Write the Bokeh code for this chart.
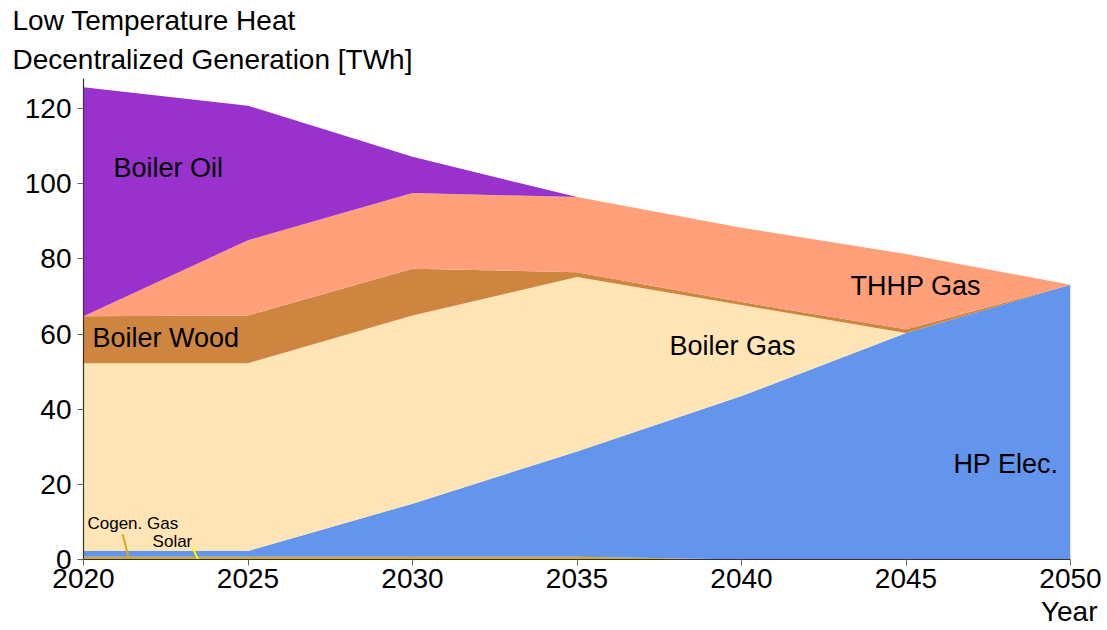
from bokeh.plotting import figure
from bokeh.models import ColumnDataSource, Label, Range1d, FixedTicker, Title
from bokeh.embed import file_html
from bokeh.resources import INLINE

# Decentralized low temperature heat generation by technology [TWh]
years = [2020, 2025, 2030, 2035, 2040, 2045, 2050]
cogen_gas = [0.7, 0.7, 0.7, 0.7, 0.0, 0.0, 0.0]
solar = [0.05, 0.05, 0.05, 0.05, 0.0, 0.0, 0.0]
hp_elec = [1.5, 1.5, 14.1, 28.0, 43.5, 60.3, 73.1]
boiler_gas = [50.0, 50.0, 50.1, 46.4, 24.2, 0.0, 0.0]
boiler_wood = [12.5, 12.7, 12.4, 1.3, 0.8, 1.0, 0.0]
thhp_gas = [0.0, 20.0, 20.2, 20.0, 19.8, 20.0, 0.0]
boiler_oil = [60.9, 35.8, 9.6, 0.0, 0.0, 0.0, 0.0]

series = ["Cogen. Gas", "Solar", "HP Elec.", "Boiler Gas", "Boiler Wood", "THHP Gas", "Boiler Oil"]
colors = ["#DAA520", "#FFFF00", "#6495ED", "#FFE4B5", "#CD853F", "#FFA07A", "#9932CC"]

source = ColumnDataSource(data={
    "year": years,
    "Cogen. Gas": cogen_gas,
    "Solar": solar,
    "HP Elec.": hp_elec,
    "Boiler Gas": boiler_gas,
    "Boiler Wood": boiler_wood,
    "THHP Gas": thhp_gas,
    "Boiler Oil": boiler_oil,
})

FONT = "Liberation Sans"

p = figure(width=1107, height=630, output_backend="svg", toolbar_location=None,
           x_range=Range1d(2020, 2050), y_range=Range1d(0, 128),
           min_border_left=83, min_border_right=37, min_border_top=0, min_border_bottom=0)
p.outline_line_color = None
p.grid.grid_line_color = None
p.background_fill_color = "white"
p.border_fill_color = "white"

p.varea_stack(stackers=series, x="year", color=colors, source=source)

for ax in (p.xaxis[0], p.yaxis[0]):
    ax.axis_line_color = "#333333"
    ax.axis_line_width = 1.2
    ax.major_tick_line_color = "#666666"
    ax.major_tick_out = 6
    ax.major_tick_in = 0
    ax.minor_tick_line_color = None
    ax.major_label_text_font = FONT
    ax.major_label_text_font_size = "28px"
    ax.major_label_text_color = "black"

p.xaxis[0].ticker = FixedTicker(ticks=years)
p.yaxis[0].ticker = FixedTicker(ticks=[0, 20, 40, 60, 80, 100, 120])
p.xaxis[0].major_label_standoff = 3
p.yaxis[0].major_label_standoff = 6

def add_text(x, y, text, size="27px", align="left"):
    p.add_layout(Label(x=x, y=y, text=text, text_font=FONT, text_font_size=size,
                       text_color="black", text_align=align, text_baseline="middle"))

# area labels
add_text(2020.91, 104.3, "Boiler Oil")
add_text(2020.27, 58.9, "Boiler Wood")
add_text(2037.81, 56.8, "Boiler Gas")
add_text(2043.31, 72.8, "THHP Gas")
add_text(2046.44, 25.3, "HP Elec.")
add_text(2020.12, 9.6, "Cogen. Gas", size="17px")
add_text(2022.1, 4.8, "Solar", size="17px")

# leader lines for the thin layers
leaders = ColumnDataSource(data={
    "x0": [2021.19, 2023.31], "y0": [6.7, 3.2],
    "x1": [2021.37, 2023.50], "y1": [0.5, -0.3],
    "c": ["#DAA520", "#FFFF00"],
})
p.segment(x0="x0", y0="y0", x1="x1", y1="y1", line_color="c", line_width=2, source=leaders)

# two-line heading above the plot, and the x axis name below it
def add_title(text, place, align, offset, standoff):
    p.add_layout(Title(text=text, align=align, offset=offset, standoff=standoff,
                       text_font=FONT, text_font_size="28px", text_font_style="normal",
                       text_color="black"), place)

add_title("Decentralized Generation [TWh]", "above", "left", -71, 8)
add_title("Low Temperature Heat", "above", "left", -71, 4)
add_title("Year", "below", "right", -27, 7)

open("out.html", "w").write(file_html(p, INLINE))
